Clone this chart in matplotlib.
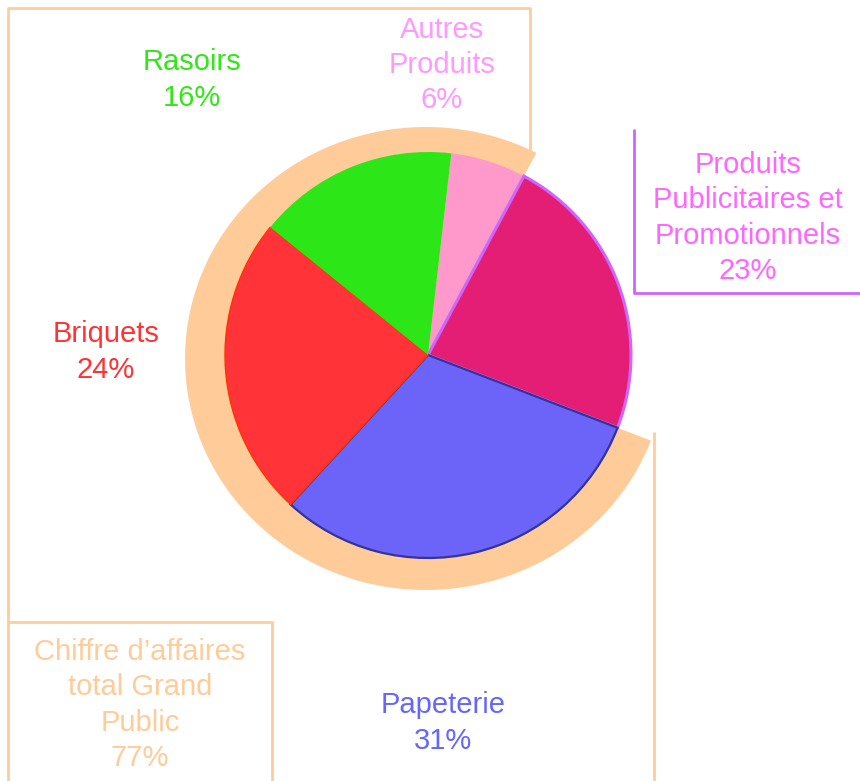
import numpy as np
import matplotlib
matplotlib.use('Agg')
import matplotlib.pyplot as plt
from matplotlib.patches import Polygon

plt.rcParams['font.family'] = ['Liberation Sans', 'DejaVu Sans']

# parts du chiffre d'affaires (%), dans l'ordre horaire depuis le haut
categories = ['Autres\nProduits', 'Produits\nPublicitaires et\nPromotionnels',
              'Papeterie', 'Briquets', 'Rasoirs']
valeurs = [6, 23, 31, 24, 16]
couleurs = ['#FF99CC', '#E31E74', '#6C63F8', '#FF3338', '#2CE617']
couleurs_labels = ['#FF99FF', '#FF66FF', '#6666FF', '#FF3333', '#33E619']
bords = ['none', '#CC66FF', '#333399', '#FF3300', 'none']

# secteurs du grand public (tout sauf les produits publicitaires)
grand_public = [0, 2, 3, 4]
label_gp = 'Chiffre d\u2019affaires\ntotal Grand\nPublic'
couleur_gp = '#FFCC99'

W, H = 860, 781
fig = plt.figure(figsize=(W / 100, H / 100), dpi=100)
ax = fig.add_axes([0, 0, 1, 1])

centre = np.array([428, H - 355])
rayon = 203
debut = 83.4

# couronne orange (ellipse) derriere les secteurs grand public
frac = np.array(valeurs) / sum(valeurs)
debut_pub = debut - 360 * frac[0]
fin_pub = debut - 360 * frac[:2].sum()
total_gp = sum(valeurs[i] for i in grand_public)

ell_c = np.array([425.8, H - 358.5])
rx, ry = 240.8, 231.5
phi = np.radians(np.linspace(debut_pub, fin_pub + 360, 400))
dx, dy = np.cos(phi), np.sin(phi)
px, py = centre - ell_c
A = dx**2 / rx**2 + dy**2 / ry**2
B = 2 * (px * dx / rx**2 + py * dy / ry**2)
C = px**2 / rx**2 + py**2 / ry**2 - 1
t = (-B + np.sqrt(B**2 - 4 * A * C)) / (2 * A)
pts = np.column_stack([centre[0] + t * dx, centre[1] + t * dy])
pts = np.vstack([centre, pts])
ax.add_patch(Polygon(pts, closed=True, facecolor=couleur_gp, edgecolor='none', zorder=0))

wedges, _ = ax.pie(valeurs, colors=couleurs, startangle=debut, counterclock=False,
                   center=tuple(centre), radius=rayon)
lw = [0, 2.2, 1.6, 1.0, 0]
for w, b, l in zip(wedges, bords, lw):
    w.set_zorder(2)
    if b != 'none':
        w.set_edgecolor(b)
        w.set_linewidth(l)

ax.set_xlim(0, W)
ax.set_ylim(0, H)
ax.set_aspect('equal')
ax.axis('off')

# positions des etiquettes (px, depuis le haut)
pos_labels = [(442, 65), (748, 218), (443, 723), (106, 352), (192, 80)]
for cat, val, col, (x, y) in zip(categories, valeurs, couleurs_labels, pos_labels):
    ax.text(x, H - y, f'{cat}\n{val}%', color=col, fontsize=21,
            ha='center', va='center', linespacing=1.33)
ax.text(140, H - 705, f'{label_gp}\n{total_gp}%', color=couleur_gp, fontsize=21,
        ha='center', va='center', linespacing=1.33)

# traits de rappel
def trait(xs, ys, c):
    ax.plot(xs, [H - y for y in ys], color=c, lw=2, solid_capstyle='butt', zorder=1)

trait([8, 8, 530, 530], [781, 8, 8, 152], couleur_gp)
trait([8, 272, 272], [622, 622, 781], couleur_gp)
trait([654, 654], [432, 781], couleur_gp)
trait([634, 634, 860], [129, 293, 293], '#CC66FF')

fig.savefig('out.png', dpi=100)
